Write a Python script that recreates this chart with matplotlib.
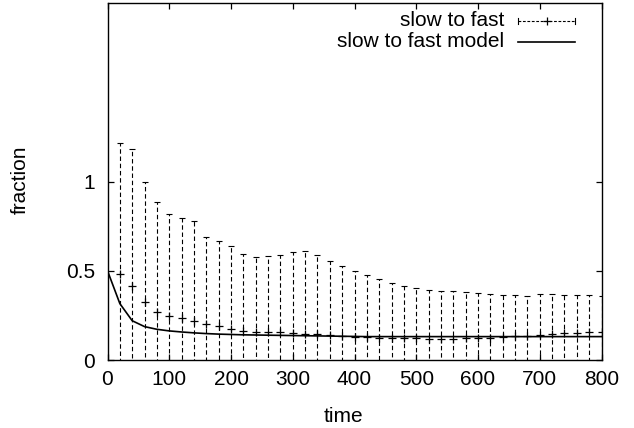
import matplotlib
matplotlib.use("Agg")
import matplotlib.pyplot as plt
from matplotlib.lines import Line2D

plt.rcParams['font.family'] = ['Liberation Sans', 'DejaVu Sans']

# data
time = [20, 40, 60, 80, 100, 120, 140, 160, 180, 200, 220, 240, 260, 280, 300,
        320, 340, 360, 380, 400, 420, 440, 460, 480, 500, 520, 540, 560, 580, 600,
        620, 640, 660, 680, 700, 720, 740, 760, 780, 800]
mean = [0.480, 0.414, 0.325, 0.270, 0.247, 0.238, 0.221, 0.200, 0.193, 0.176,
        0.163, 0.157, 0.156, 0.156, 0.152, 0.148, 0.144, 0.139, 0.135, 0.131,
        0.127, 0.125, 0.124, 0.122, 0.122, 0.120, 0.120, 0.120, 0.122, 0.124,
        0.125, 0.129, 0.135, 0.137, 0.140, 0.148, 0.150, 0.152, 0.156, 0.159]
upper = [1.217, 1.183, 1.000, 0.884, 0.820, 0.796, 0.781, 0.689, 0.668, 0.639,
         0.596, 0.575, 0.580, 0.590, 0.604, 0.608, 0.586, 0.552, 0.524, 0.498,
         0.478, 0.453, 0.434, 0.417, 0.403, 0.391, 0.386, 0.388, 0.382, 0.375,
         0.371, 0.366, 0.363, 0.361, 0.369, 0.369, 0.365, 0.363, 0.363, 0.361]
model_time = [0, 20, 40, 60, 80, 100, 120, 140, 160, 180, 200, 220, 240, 260, 280,
              300, 320, 340, 360, 380, 400, 420, 440, 460, 480, 500, 520, 540, 560,
              580, 600, 620, 640, 660, 680, 700, 720, 740, 760, 780, 800]
model = [0.500, 0.316, 0.220, 0.187, 0.172, 0.163, 0.157, 0.152, 0.148, 0.145,
         0.143, 0.141, 0.140, 0.139, 0.138, 0.137, 0.136, 0.135, 0.134, 0.133,
         0.132, 0.131, 0.131, 0.131, 0.131, 0.131, 0.131, 0.131, 0.131, 0.131,
         0.131, 0.131, 0.131, 0.131, 0.131, 0.131, 0.131, 0.131, 0.131, 0.131, 0.131]
err = [u - m for u, m in zip(upper, mean)]

FS = 15

fig = plt.figure(figsize=(6.34, 4.28), dpi=100)
ax = fig.add_axes([107.5 / 634, 68 / 428, 494 / 634, 357 / 428])

eb = ax.errorbar(time, mean, yerr=err, fmt='none', ecolor='black',
                 elinewidth=0.8, capsize=2, capthick=0.8)
for lc in eb[2]:
    lc.set_linestyle((0, (4, 2.5)))
ax.plot(time, mean, linestyle='none', marker='+', markersize=6,
        markeredgewidth=0.9, color='black')
ax.plot(model_time, model, color='black', linewidth=1.2)

ax.set_xlim(0, 800)
ax.set_ylim(0, 2)
ax.set_xticks(range(0, 801, 100))
ax.set_yticks([0, 0.5, 1])
ax.set_yticklabels(['0', '0.5', '1'])
ax.tick_params(direction='in', length=4, width=0.9, top=True, right=True,
               labelsize=FS)
ax.tick_params(axis='x', pad=7)
ax.tick_params(axis='y', pad=9)
for s in ax.spines.values():
    s.set_linewidth(1.0)

fig.text(343 / 634, 1 - 417 / 428, 'time', ha='center', va='center', fontsize=FS)
fig.text(20 / 634, 1 - 180 / 428, 'fraction', ha='center', va='center',
         rotation=90, fontsize=FS)

# key
tx = (504 - 107.5) / 494
x0 = (518 - 107.5) / 494
x1 = (575 - 107.5) / 494
xm = (x0 + x1) / 2
y1 = (360 - 20.7) / 357
y2 = (360 - 41.7) / 357
ax.text(tx, y1, 'slow to fast', transform=ax.transAxes, ha='right',
        va='center', fontsize=FS)
ax.text(tx, y2, 'slow to fast model', transform=ax.transAxes, ha='right',
        va='center', fontsize=FS)
ax.add_line(Line2D([x0, x1], [y1, y1], transform=ax.transAxes, color='black',
                   linewidth=0.8, linestyle=(0, (2.5, 1.5)), clip_on=False))
for xx in (x0, x1):
    ax.add_line(Line2D([xx, xx], [y1 - 0.008, y1 + 0.008], transform=ax.transAxes,
                       color='black', linewidth=0.8, clip_on=False))
ax.add_line(Line2D([xm], [y1], transform=ax.transAxes, color='black',
                   marker='+', markersize=6, markeredgewidth=0.9,
                   linestyle='none', clip_on=False))
ax.add_line(Line2D([x0, x1], [y2, y2], transform=ax.transAxes, color='black',
                   linewidth=1.2, clip_on=False))

fig.savefig('out.png', dpi=100)
